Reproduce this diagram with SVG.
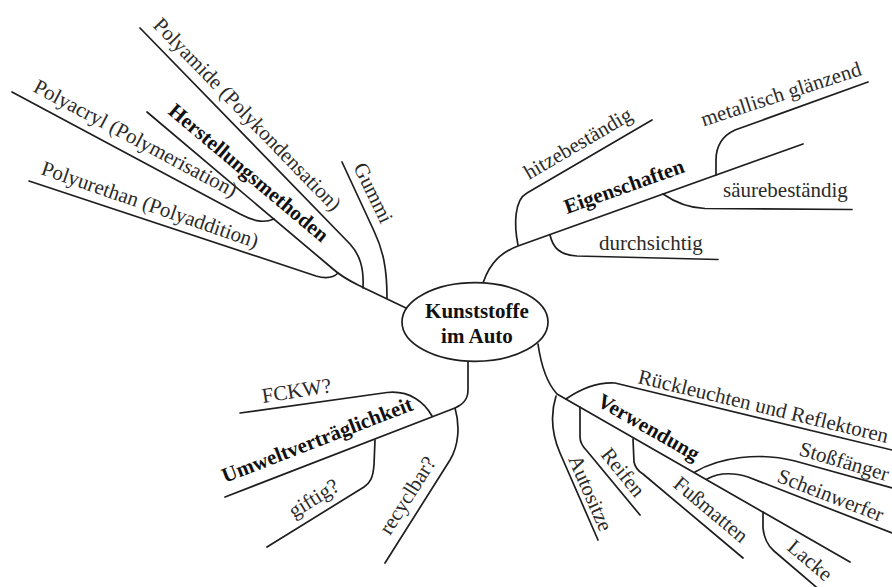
<svg xmlns="http://www.w3.org/2000/svg" width="892" height="587" viewBox="0 0 892 587">
<style>
.ln{fill:none;stroke:#1e1e1e;stroke-width:1.7;stroke-linecap:round;stroke-linejoin:round}
.t{font-family:"Liberation Serif","Times New Roman",serif;font-size:21px;fill:#2a2a2a}
.b{font-weight:bold;fill:#111}
</style>
<rect width="892" height="587" fill="#fff"/>
<g id="connectors">
<path class="ln" d="M147,112 L333,269 C343,278 352,282 362,287 L406,308"/>
<path class="ln" d="M140,28 L350,244 C360,255 364,268 363,288"/>
<path class="ln" d="M342,162 L374,231 C383,250 387,268 387,298"/>
<path class="ln" d="M12,92 L240,214 C252,220 262,224 274,219"/>
<path class="ln" d="M29,181 L316,276 C326,279 333,278 338,273"/>
<path class="ln" d="M483,283 C490,262 502,252 518,246 L803,144"/>
<path class="ln" d="M518,245 C514,225 514,200 527,193 L652,120"/>
<path class="ln" d="M716,175 L716,160 C716,146 722,136 735,130 L868,82"/>
<path class="ln" d="M663,194 C676,203 690,208 705,208.5 L852,209.5"/>
<path class="ln" d="M550,235 C553,248 560,255 577,256 L718,259.5"/>
<path class="ln" d="M468,361 L468,390 C468,399 464,404 455,408 L225,497"/>
<path class="ln" d="M432,416 C425,403 410,390 387,392.5 L240,413"/>
<path class="ln" d="M375,440 L374,465 C373,478 370,483 364,487 L267,547"/>
<path class="ln" d="M455,408 C460,425 459,445 450,460 L385,563"/>
<path class="ln" d="M538,344 C541,365 546,382 557,394 L850,562"/>
<path class="ln" d="M566,399 C582,388 598,382 615,383 L892,450"/>
<path class="ln" d="M556,396 C551,412 551,432 560,453 L598,540"/>
<path class="ln" d="M580,407 L580,437 C580,443 583,447 587,451 L640,515"/>
<path class="ln" d="M633,439 L634,462 C635,467 638,471 643,474 L743,558"/>
<path class="ln" d="M695,472 C720,457 760,452 795,461 L892,488"/>
<path class="ln" d="M707,479 C718,473 732,472 748,477 L892,533"/>
<path class="ln" d="M763,512 L763,528 C764,538 767,545 774,551 L822,592"/>
</g>
<g id="center">
<ellipse cx="475" cy="322" rx="73" ry="39.3" fill="#fff" stroke="#1e1e1e" stroke-width="1.7"/>
<text class="t b" x="477" y="318" text-anchor="middle" font-size="20">Kunststoffe</text>
<text class="t b" x="477" y="343" text-anchor="middle" font-size="20">im Auto</text>
</g>
<g id="herstellungsmethoden"><text class="t b" transform="translate(167,113) rotate(40.1)">Herstellungsmethoden</text></g>
<g id="polyamide"><text class="t" transform="translate(152,26) rotate(45.9)">Polyamide (Polykondensation)</text></g>
<g id="polyacryl"><text class="t" transform="translate(32,91) rotate(28)">Polyacryl (Polymerisation)</text></g>
<g id="polyurethan"><text class="t" transform="translate(40,174) rotate(19)">Polyurethan (Polyaddition)</text></g>
<g id="gummi"><text class="t" transform="translate(353,167) rotate(64)">Gummi</text></g>
<g id="eigenschaften"><text class="t b" transform="translate(567,214) rotate(-19.5)">Eigenschaften</text></g>
<g id="hitzebestaendig"><text class="t" transform="translate(529,180) rotate(-30.3)">hitzebeständig</text></g>
<g id="metallisch"><text class="t" transform="translate(703.5,126.5) rotate(-18)">metallisch glänzend</text></g>
<g id="saeurebestaendig"><text class="t" x="723" y="197">säurebeständig</text></g>
<g id="durchsichtig"><text class="t" x="599" y="250">durchsichtig</text></g>
<g id="umwelt"><text class="t b" transform="translate(225,483) rotate(-21.2)">Umweltverträglichkeit</text></g>
<g id="fckw"><text class="t" transform="translate(263,403) rotate(-9)">FCKW?</text></g>
<g id="giftig"><text class="t" transform="translate(294,518.5) rotate(-31.8)">giftig?</text></g>
<g id="recyclbar"><text class="t" transform="translate(390,536) rotate(-57.7)">recyclbar?</text></g>
<g id="verwendung"><text class="t b" transform="translate(596,405) rotate(29.8)">Verwendung</text></g>
<g id="rueckleuchten"><text class="t" transform="translate(637,383) rotate(13.5)">Rückleuchten und Reflektoren</text></g>
<g id="autositze"><text class="t" transform="translate(568,459) rotate(66.4)">Autositze</text></g>
<g id="reifen"><text class="t" transform="translate(600,455) rotate(50.8)">Reifen</text></g>
<g id="fussmatten"><text class="t" transform="translate(672,486) rotate(40)">Fußmatten</text></g>
<g id="stossfaenger"><text class="t" transform="translate(798,455) rotate(16.5)">Stoßfänger</text></g>
<g id="scheinwerfer"><text class="t" transform="translate(776,481.5) rotate(21.2)">Scheinwerfer</text></g>
<g id="lacke"><text class="t" transform="translate(786,549) rotate(40.3)">Lacke</text></g>
</svg>
